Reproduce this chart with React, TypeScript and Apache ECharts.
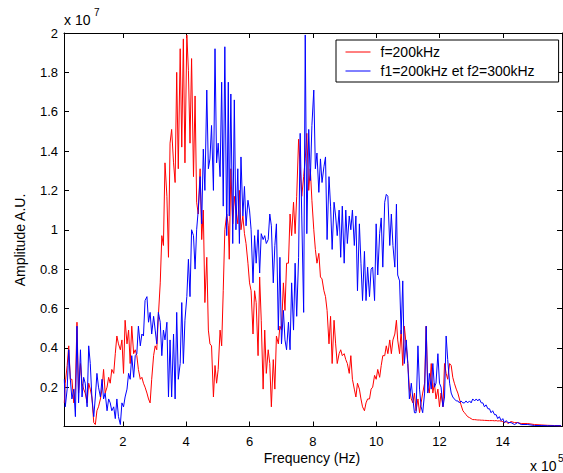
import React, { useEffect, useRef } from 'react';
import * as echarts from 'echarts';

// Frequency in units of 1e5 Hz
const frequency = [
  0.15,0.18,0.24,0.29,0.34,0.39,0.45,0.50,0.55,0.60,0.66,0.71,0.76,0.81,0.87,0.92,0.97,1.02,1.08,1.13,
  1.18,1.23,1.29,1.34,1.39,1.44,1.50,1.55,1.60,1.65,1.71,1.76,1.81,1.86,1.92,1.97,2.02,2.07,2.13,2.18,
  2.23,2.28,2.34,2.39,2.44,2.49,2.55,2.60,2.65,2.70,2.76,2.81,2.86,2.91,2.97,3.02,3.07,3.12,3.18,3.23,
  3.28,3.33,3.39,3.44,3.49,3.54,3.60,3.65,3.70,3.75,3.81,3.86,3.91,3.96,4.02,4.07,4.12,4.17,4.23,4.28,
  4.33,4.38,4.44,4.49,4.54,4.59,4.65,4.70,4.75,4.80,4.86,4.91,4.96,5.01,5.07,5.12,5.17,5.22,5.28,5.33,
  5.36,5.41,5.47,5.52,5.57,5.63,5.68,5.73,5.79,5.84,5.89,5.95,6.00,6.05,6.11,6.16,6.21,6.27,6.32,6.37,
  6.43,6.48,6.53,6.59,6.64,6.69,6.75,6.80,6.85,6.91,6.96,7.01,7.07,7.12,7.17,7.23,7.28,7.33,7.39,7.44,
  7.49,7.55,7.60,7.65,7.71,7.76,7.81,7.87,7.92,7.97,8.03,8.08,8.13,8.19,8.24,8.29,8.35,8.40,8.45,8.51,
  8.56,8.61,8.67,8.72,8.77,8.83,8.88,8.93,8.99,9.04,9.09,9.15,9.20,9.25,9.31,9.36,9.41,9.47,9.52,9.57,
  9.63,9.68,9.73,9.79,9.84,9.89,9.95,10.00,10.05,10.11,10.16,10.21,10.27,10.32,10.37,10.43,10.48,10.53,10.59,10.64,
  10.68,10.74,10.79,10.84,10.89,10.95,11.00,11.05,11.11,11.16,11.21,11.26,11.32,11.37,11.42,11.47,11.53,11.58,11.63,11.68,
  11.74,11.79,11.84,11.89,11.95,12.00,12.05,12.11,12.16,12.21,12.26,12.32,12.37,12.42,12.47,12.53,12.58,12.63,
  12.68,12.74,12.79,12.84,12.89,12.95,13.00,13.05,13.11,13.16,13.21,13.26,13.32,13.37,13.42,13.47,13.53,13.58,13.63,13.68,
  13.74,13.79,13.84,13.89,13.95,14.00,14.05,14.11,14.16,14.26,14.37,14.47,14.58,14.79,15.00,15.21,15.42,15.63,15.84,
];

// Amplitude in units of 1e7 (A.U.), f = 200 kHz
const redAmp = [
  0.12,0.22,0.31,0.41,0.24,0.24,0.12,0.20,0.53,0.17,0.32,0.22,0.19,0.17,0.12,0.22,0.19,0.15,0.02,0.01,
  0.08,0.10,0.14,0.19,0.29,0.17,0.20,0.25,0.22,0.29,0.27,0.37,0.46,0.42,0.39,0.44,0.27,0.54,0.42,0.49,
  0.32,0.51,0.37,0.39,0.36,0.29,0.24,0.25,0.22,0.20,0.17,0.14,0.12,0.24,0.36,0.41,0.39,0.56,0.73,0.97,
  0.92,1.34,1.17,0.86,1.44,1.51,1.34,1.24,1.80,1.31,1.92,1.42,1.97,1.34,1.99,1.81,1.44,1.87,1.27,1.68,
  1.14,1.08,1.31,0.95,1.10,0.63,0.86,0.49,0.42,0.41,0.15,0.31,0.22,0.29,0.49,0.41,0.69,1.00,1.08,1.02,
  0.85,1.31,1.03,1.17,1.10,1.03,1.20,1.00,1.07,0.98,0.93,0.83,0.73,0.69,0.47,0.69,0.63,0.36,0.76,0.54,
  0.19,0.49,0.27,0.39,0.32,0.10,0.34,0.19,0.46,0.42,0.51,0.49,0.73,0.59,0.83,0.83,1.08,0.97,1.14,0.98,
  1.17,1.46,1.32,1.17,1.27,1.36,1.49,1.20,1.31,1.15,1.00,0.90,0.83,0.88,0.76,0.75,0.69,0.66,0.59,0.42,
  0.56,0.32,0.54,0.42,0.32,0.37,0.39,0.36,0.37,0.34,0.32,0.27,0.36,0.24,0.19,0.15,0.22,0.19,0.14,0.10,
  0.08,0.12,0.14,0.14,0.19,0.20,0.26,0.24,0.29,0.25,0.31,0.36,0.36,0.41,0.37,0.44,0.37,0.44,0.47,0.54,
  0.44,0.37,0.49,0.31,0.51,0.41,0.32,0.19,0.14,0.12,0.17,0.08,0.14,0.07,0.12,0.17,0.22,0.51,0.20,0.17,
  0.32,0.17,0.22,0.14,0.19,0.10,0.17,0.10,0.32,0.27,0.24,0.32,0.31,0.25,0.22,0.19,0.17,0.14,
  0.11,0.08,0.07,0.06,0.05,0.045,0.04,0.035,0.035,0.034,0.033,0.033,0.032,0.032,0.031,0.031,0.03,0.03,0.03,0.03,
  0.029,0.03,0.028,0.029,0.027,0.025,0.02,0.025,0.015,0.025,0.02,0.02,0.015,0.015,0.01,0.008,0.006,0.005,0.004,
];

// Amplitude in units of 1e7 (A.U.), f1 = 200 kHz and f2 = 300 kHz
const blueAmp = [
  0.24,0.10,0.19,0.39,0.24,0.14,0.19,0.05,0.51,0.12,0.39,0.15,0.25,0.22,0.10,0.41,0.32,0.15,0.05,0.15,
  0.27,0.20,0.15,0.24,0.14,0.17,0.08,0.14,0.12,0.08,0.10,0.04,0.14,0.05,0.01,0.12,0.10,0.15,0.19,0.27,
  0.24,0.36,0.25,0.36,0.37,0.51,0.41,0.47,0.46,0.64,0.66,0.53,0.58,0.47,0.56,0.49,0.42,0.58,0.53,0.36,
  0.49,0.44,0.53,0.15,0.44,0.15,0.47,0.14,0.58,0.24,0.32,0.63,0.32,0.54,0.66,0.85,0.66,1.00,0.97,0.80,
  1.00,1.10,1.27,1.03,1.41,1.20,1.71,1.31,1.36,1.53,1.20,1.92,1.34,1.44,1.27,1.75,1.12,1.93,0.97,1.75,
  1.07,1.69,0.93,1.66,1.00,1.31,0.93,1.37,1.07,1.22,1.02,1.15,1.10,1.00,0.73,0.97,0.83,1.00,0.78,0.98,
  0.95,0.97,0.93,0.95,1.08,1.02,0.73,0.92,1.03,0.49,0.86,0.42,0.59,0.44,0.39,0.53,0.39,0.73,0.49,0.83,
  0.56,0.86,1.49,1.07,0.58,1.99,0.98,1.51,1.25,1.53,1.71,1.31,1.39,1.19,1.36,1.24,1.32,1.37,0.95,1.27,
  1.12,0.90,1.14,1.07,0.97,1.10,0.86,1.12,0.83,1.10,0.93,1.07,1.00,1.10,0.92,1.07,0.69,1.03,0.83,0.64,
  0.89,0.64,0.81,0.66,0.80,0.81,0.64,1.03,0.77,0.98,1.06,0.81,1.14,1.18,1.17,0.92,1.08,0.92,0.81,1.13,
  0.77,0.74,0.47,0.74,0.32,0.44,0.32,0.14,0.22,0.14,0.07,0.07,0.41,0.19,0.10,0.07,0.17,0.51,0.17,0.27,
  0.19,0.32,0.20,0.22,0.37,0.22,0.20,0.10,0.15,0.46,0.34,0.22,0.17,0.15,0.14,0.13,0.13,0.12,
  0.13,0.12,0.12,0.13,0.12,0.13,0.12,0.14,0.13,0.14,0.13,0.14,0.12,0.12,0.10,0.11,0.09,0.09,0.07,0.08,
  0.06,0.06,0.04,0.05,0.03,0.04,0.02,0.03,0.02,0.02,0.01,0.02,0.01,0.01,0.005,0.005,0.004,0.004,0.004,
];

const seriesNames = ['f=200kHz', 'f1=200kHz et f2=300kHz'];
const xTickValues = [2, 4, 6, 8, 10, 12, 14];
const xLabel = 'Frequency (Hz)';
const yLabel = 'Amplitude A.U.';

export default function App() {
  const ref = useRef<HTMLDivElement>(null);
  useEffect(() => {
    const chart = echarts.init(ref.current as HTMLDivElement, null, { renderer: 'svg' });
    const font = '"Liberation Sans", Arial, sans-serif';
    const line = { show: true, onZero: false, lineStyle: { color: '#000', width: 1 } };
    const xTick = { show: true, inside: true, length: 5, customValues: xTickValues, lineStyle: { color: '#000' } };
    const yTick = { show: true, inside: true, length: 5, lineStyle: { color: '#000' } };
    const xBase = { type: 'value', min: 0.14, max: 15.87, splitLine: { show: false }, axisLine: line, axisTick: xTick };
    const yBase = { type: 'value', min: 0, max: 2, interval: 0.2, splitLine: { show: false }, axisLine: line, axisTick: yTick };
    chart.setOption({
      animation: false,
      textStyle: { fontFamily: font },
      grid: { left: 64, top: 33, width: 498, height: 393.5 },
      xAxis: [
        { ...xBase, position: 'bottom', axisLabel: { customValues: xTickValues, color: '#000', fontSize: 13, margin: 8, fontFamily: font } },
        { ...xBase, position: 'top', axisLabel: { show: false } },
      ],
      yAxis: [
        {
          ...yBase, position: 'left',
          axisLabel: {
            color: '#000', fontSize: 13, margin: 6, fontFamily: font,
            formatter: (v: number) => (Math.abs(v) < 1e-9 ? '' : String(parseFloat(v.toFixed(1)))),
          },
        },
        { ...yBase, position: 'right', axisLabel: { show: false } },
      ],
      legend: {
        data: seriesNames,
        orient: 'vertical',
        left: 336,
        top: 40,
        itemWidth: 25,
        itemHeight: 14,
        itemGap: 5,
        padding: [5, 24, 4, 9],
        borderColor: '#000',
        borderWidth: 1,
        backgroundColor: '#fff',
        itemStyle: { opacity: 0 },
        lineStyle: { width: 1 },
        textStyle: { fontSize: 14, color: '#000', fontFamily: font, padding: [0, 0, 0, 5] },
      },
      series: [
        {
          name: seriesNames[0], type: 'line', symbol: 'none', showSymbol: false,
          data: frequency.map((f, i) => [f, redAmp[i]]),
          lineStyle: { color: '#ff0000', width: 1 }, itemStyle: { color: '#ff0000' },
        },
        {
          name: seriesNames[1], type: 'line', symbol: 'none', showSymbol: false,
          data: frequency.map((f, i) => [f, blueAmp[i]]),
          lineStyle: { color: '#0000ff', width: 1 }, itemStyle: { color: '#0000ff' },
        },
      ],
      graphic: [
        { type: 'text', x: 20, y: 240, rotation: Math.PI / 2, style: { text: yLabel, fontSize: 14, fontFamily: font, fill: '#000', align: 'center', verticalAlign: 'middle' } },
        { type: 'text', x: 312, y: 458, style: { text: xLabel, fontSize: 14, fontFamily: font, fill: '#000', align: 'center', verticalAlign: 'middle' } },
        { type: 'text', x: 64, y: 20, style: { text: 'x 10', fontSize: 14, fontFamily: font, fill: '#000', align: 'left', verticalAlign: 'middle' } },
        { type: 'text', x: 94, y: 12, style: { text: '7', fontSize: 10, fontFamily: font, fill: '#000', align: 'left', verticalAlign: 'middle' } },
        { type: 'text', x: 530, y: 466, style: { text: 'x 10', fontSize: 14, fontFamily: font, fill: '#000', align: 'left', verticalAlign: 'middle' } },
        { type: 'text', x: 558, y: 458, style: { text: '5', fontSize: 10, fontFamily: font, fill: '#000', align: 'left', verticalAlign: 'middle' } },
      ],
    });
    return () => chart.dispose();
  }, []);
  return <div ref={ref} style={{ position: 'absolute', left: 0, top: 0, width: 563, height: 473 }} />;
}
